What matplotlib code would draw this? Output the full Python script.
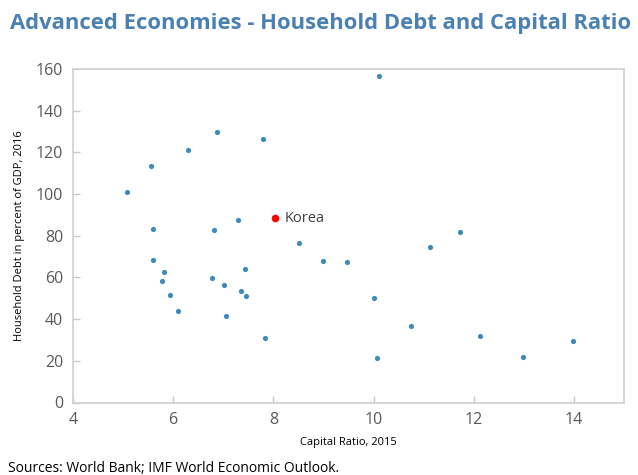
import matplotlib
matplotlib.use("Agg")
import matplotlib.pyplot as plt

capital_ratio = [5.07, 5.56, 6.30, 6.88, 7.79, 5.60, 6.82, 7.30, 8.51,
                 10.11, 11.72, 11.13,
                 5.60, 5.82, 5.78, 5.94, 6.09, 6.77, 7.01, 7.44, 7.35, 7.45,
                 7.06, 7.84, 9.00, 9.48,
                 10.00, 10.07, 10.75, 12.13, 12.99, 13.99]
household_debt = [100.9, 113.4, 121.1, 129.6, 126.2, 83.4, 82.9, 87.4, 76.7,
                  156.6, 81.6, 74.4,
                  68.5, 62.6, 58.3, 51.4, 44.0, 59.9, 56.5, 64.0, 53.6, 51.0,
                  41.7, 31.0, 67.9, 67.2,
                  49.9, 21.2, 36.8, 32.0, 21.7, 29.6]
korea_x = [8.04]
korea_y = [88.4]
korea_label = "Korea"

x_ticks = [4, 6, 8, 10, 12, 14]
y_ticks = [0, 20, 40, 60, 80, 100, 120, 140, 160]

title = "Advanced Economies - Household Debt and Capital Ratio"
x_label = "Capital Ratio, 2015"
y_label = "Household Debt in percent of GDP, 2016"
source = "Sources: World Bank; IMF World Economic Outlook."

plt.rcParams['font.family'] = ['Open Sans', 'DejaVu Sans']

fig = plt.figure(figsize=(6.38, 4.75), dpi=100)
ax = fig.add_axes([73/638, 1 - 402.5/475, (624-73)/638, (402.5-69)/475])

ax.scatter(capital_ratio, household_debt, s=14, color='#3d8ab8', zorder=3, linewidths=0)
ax.scatter(korea_x, korea_y, s=30, color='#ff0000', zorder=4, linewidths=0)
ax.annotate(korea_label, (korea_x[0], korea_y[0]), xytext=(7, 0), textcoords='offset points',
            va='center', ha='left', fontsize=10.5, color='#404040')

ax.set_xlim(4, 15)
ax.set_ylim(0, 160)
ax.set_xticks(x_ticks)
ax.set_yticks(y_ticks)
ax.tick_params(axis='both', direction='in', length=5, color='#c8c8c8', width=1,
               labelsize=11.5, labelcolor='#595959', pad=7)
for sp in ax.spines.values():
    sp.set_color('#d0d0d0')
    sp.set_linewidth(1.2)

ax.set_xlabel(x_label, fontsize=8, color='#000000', labelpad=6)
ax.set_ylabel(y_label, fontsize=8, color='#000000', labelpad=8)

fig.text(10/638, 1 - 23/475, title, fontsize=15.8, fontweight='bold', color='#4a80b2',
         ha='left', va='center')
fig.text(8/638, 1 - 468/475, source, fontsize=10, color='#000000', ha='left', va='center')

fig.savefig("out.png", dpi=100)
